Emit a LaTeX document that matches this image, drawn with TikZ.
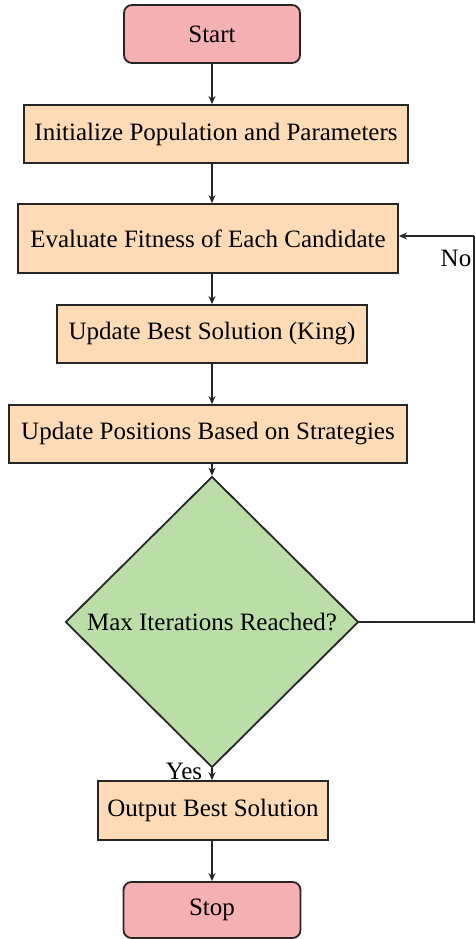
\documentclass[tikz,border=0pt]{standalone}
\usepackage{fontspec}
\setmainfont{Liberation Serif}
\usetikzlibrary{shapes.geometric,arrows.meta}
\definecolor{termfill}{RGB}{245,176,180}
\definecolor{procfill}{RGB}{252,219,182}
\definecolor{decfill}{RGB}{187,222,168}
\tikzset{
  base/.style={draw=black!85, line width=1.8pt, inner sep=0pt,
    font=\fontsize{25}{30}\selectfont, text=black},
  term/.style={base, rounded corners=8pt, fill=termfill},
  proc/.style={base, fill=procfill},
  decision/.style={draw=black!85, line width=1.8pt, diamond, fill=decfill, inner sep=0pt},
  txt/.style={font=\fontsize{25}{30}\selectfont, text=black, inner sep=0pt},
  conn/.style={draw=black!85, line width=1.8pt, -{Stealth[length=8pt,width=7pt]}},
  line/.style={draw=black!85, line width=1.8pt}
}
\begin{document}
\begin{tikzpicture}[x=1pt,y=-1pt]
\useasboundingbox (0,0) rectangle (475,939);
\node[term, minimum width=176pt, minimum height=58pt] (start) at (212,34) {Start};
\node[proc, minimum width=384pt, minimum height=58pt] (init) at (216,134) {Initialize Population and Parameters};
\node[proc, minimum width=380pt, minimum height=69pt] (eval) at (208,238.5) {Evaluate Fitness of Each Candidate};
\node[proc, minimum width=310pt, minimum height=58pt] (best) at (212,334) {Update Best Solution (King)};
\node[proc, minimum width=398pt, minimum height=58pt] (pos) at (208,434) {Update Positions Based on Strategies};
\node[decision, minimum width=293pt, minimum height=291pt] (dec) at (212,622) {};
\node[txt] (dectext) at (dec.center) {Max Iterations Reached?};
\node[proc, minimum width=230pt, minimum height=59pt] (out) at (213,810.5) {Output Best Solution};
\node[term, minimum width=177pt, minimum height=56pt] (stop) at (212,910) {Stop};
\coordinate (c1) at (474,622);
\coordinate (c2) at (474,236);
\draw[conn] (start.south) -- (start.south |- init.north);
\draw[conn] (init.south -| start.south) -- (start.south |- eval.north);
\draw[conn] (eval.south -| start.south) -- (start.south |- best.north);
\draw[conn] (best.south) -- (best.south |- pos.north);
\draw[conn] (pos.south -| start.south) -- (dec.north);
\draw[conn] (dec.south) -- (dec.south |- out.north);
\draw[conn] (out.south -| start.south) -- (stop.north);
\draw[line] (dec.east) -- (c1) -- (c2);
\draw[conn] (c2) -- (c2 -| eval.east);
\node[txt] (no) at (456,258) {No};
\node[txt] (yes) at (184,771) {Yes};
\end{tikzpicture}
\end{document}
